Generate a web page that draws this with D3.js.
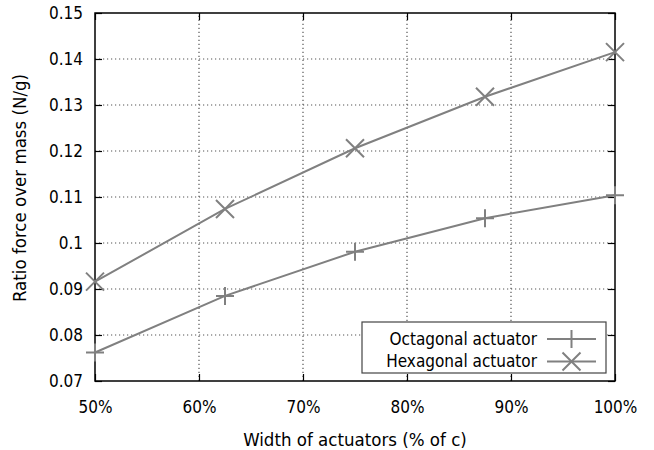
<!DOCTYPE html>
<html>
<head>
<meta charset="utf-8">
<script src="https://cdn.jsdelivr.net/npm/d3@7"></script>
<style>
	body { margin: 0; background: #fff; }
	text { font-family: 'DejaVu Sans Condensed', 'DejaVu Sans', sans-serif; fill: #000; }
</style>
</head>
<body>
<script>
// DATA
const widths = [50, 62.5, 75, 87.5, 100];
const octagonal = [0.0762, 0.0885, 0.0981, 0.1054, 0.1104];
const hexagonal = [0.0916, 0.1074, 0.1206, 0.1318, 0.1415];
const xTicks = [50, 60, 70, 80, 90, 100];
const yTicks = [0.07, 0.08, 0.09, 0.1, 0.11, 0.12, 0.13, 0.14, 0.15];
const seriesNames = ['Octagonal actuator', 'Hexagonal actuator'];

// CONFIGURATION
const width = 654;
const height = 450;
const margin = { left: 95, right: 39, top: 13, bottom: 69 };
const lineColor = '#808080';
const markerSize = 9;
const tickLen = 7;
const font = "'DejaVu Sans Condensed', 'DejaVu Sans', sans-serif";

const svg = d3.select('body')
	.append('svg')
	.attr('width', width)
	.attr('height', height);

const xScale = d3.scaleLinear()
	.domain([50, 100])
	.range([margin.left, width - margin.right]);
const yScale = d3.scaleLinear()
	.domain([0.07, 0.15])
	.range([height - margin.bottom, margin.top]);

const x0 = margin.left, x1 = width - margin.right;
const y0 = height - margin.bottom, y1 = margin.top;

// GRID
const grid = svg.append('g');
grid.selectAll('.gx')
	.data(xTicks.slice(1, -1))
	.enter()
	.append('line')
	.attr('x1', d => xScale(d)).attr('x2', d => xScale(d))
	.attr('y1', y0).attr('y2', y1)
	.attr('stroke', '#555')
	.attr('stroke-width', 1.2)
	.attr('stroke-dasharray', '1.2,2.8');
grid.selectAll('.gy')
	.data(yTicks.slice(1, -1))
	.enter()
	.append('line')
	.attr('y1', d => yScale(d)).attr('y2', d => yScale(d))
	.attr('x1', x0).attr('x2', x1)
	.attr('stroke', '#555')
	.attr('stroke-width', 1.2)
	.attr('stroke-dasharray', '1.2,2.8');

// AXES (ticks inside, mirrored)
const xAxis = d3.axisBottom(xScale)
	.tickValues(xTicks)
	.tickSizeInner(-tickLen)
	.tickSizeOuter(0)
	.tickPadding(20)
	.tickFormat(d => d + '%');
svg.append('g')
	.attr('transform', `translate(0, ${y0})`)
	.call(xAxis)
	.call(g => g.select('.domain').remove());

svg.append('g')
	.attr('transform', `translate(0, ${y1})`)
	.call(d3.axisTop(xScale).tickValues(xTicks).tickSizeInner(-tickLen).tickSizeOuter(0).tickFormat(''))
	.call(g => g.select('.domain').remove());

const yAxis = d3.axisLeft(yScale)
	.tickValues(yTicks)
	.tickSizeInner(-tickLen)
	.tickSizeOuter(0)
	.tickPadding(12)
	.tickFormat(d => String(+d.toFixed(2)));
svg.append('g')
	.attr('transform', `translate(${x0}, 0)`)
	.call(yAxis)
	.call(g => g.select('.domain').remove());

svg.append('g')
	.attr('transform', `translate(${x1}, 0)`)
	.call(d3.axisRight(yScale).tickValues(yTicks).tickSizeInner(-tickLen).tickSizeOuter(0).tickFormat(''))
	.call(g => g.select('.domain').remove());

svg.selectAll('.tick line').attr('stroke', '#000').attr('stroke-width', 1.2);
svg.selectAll('.tick text')
	.style('font-family', font)
	.style('font-size', '17px')
	.attr('fill', '#000');

// BORDER
svg.append('rect')
	.attr('x', x0).attr('y', y1)
	.attr('width', x1 - x0).attr('height', y0 - y1)
	.attr('fill', 'none')
	.attr('stroke', '#000')
	.attr('stroke-width', 1.5);

// SERIES
const line = d3.line()
	.x(d => xScale(d[0]))
	.y(d => yScale(d[1]));

const plusPath = s => `M${-s},0H${s}M0,${-s}V${s}`;
const crossPath = s => `M${-s},${-s}L${s},${s}M${-s},${s}L${s},${-s}`;
const markers = [plusPath, crossPath];

[octagonal, hexagonal].forEach((vals, i) => {
	const pts = widths.map((w, j) => [w, vals[j]]);
	svg.append('path')
		.datum(pts)
		.attr('d', line)
		.attr('fill', 'none')
		.attr('stroke', lineColor)
		.attr('stroke-width', 2);
	svg.selectAll('.m' + i)
		.data(pts)
		.enter()
		.append('path')
		.attr('transform', d => `translate(${xScale(d[0])}, ${yScale(d[1])})`)
		.attr('d', markers[i](markerSize))
		.attr('fill', 'none')
		.attr('stroke', lineColor)
		.attr('stroke-width', 2);
});

// LEGEND
const legend = svg.append('g');
legend.append('rect')
	.attr('x', 362).attr('y', 322)
	.attr('width', 244).attr('height', 51)
	.attr('fill', '#fff')
	.attr('stroke', '#444')
	.attr('stroke-width', 1.2);
seriesNames.forEach((name, i) => {
	const cy = 339 + i * 22.5;
	legend.append('text')
		.attr('x', 537).attr('y', cy)
		.attr('dy', '0.35em')
		.attr('text-anchor', 'end')
		.style('font-size', '17px')
		.text(name);
	legend.append('line')
		.attr('x1', 547).attr('x2', 596)
		.attr('y1', cy).attr('y2', cy)
		.attr('stroke', lineColor)
		.attr('stroke-width', 2);
	legend.append('path')
		.attr('transform', `translate(571.5, ${cy})`)
		.attr('d', markers[i](markerSize))
		.attr('fill', 'none')
		.attr('stroke', lineColor)
		.attr('stroke-width', 2);
});

// AXIS LABELS
svg.append('text')
	.attr('x', (x0 + x1) / 2)
	.attr('y', 446)
	.attr('text-anchor', 'middle')
	.style('font-size', '18.5px')
	.text('Width of actuators (% of c)');

svg.append('text')
	.attr('transform', `translate(26, 188) rotate(-90)`)
	.attr('text-anchor', 'middle')
	.style('font-size', '18.5px')
	.text('Ratio force over mass (N/g)');
</script>
</body>
</html>
